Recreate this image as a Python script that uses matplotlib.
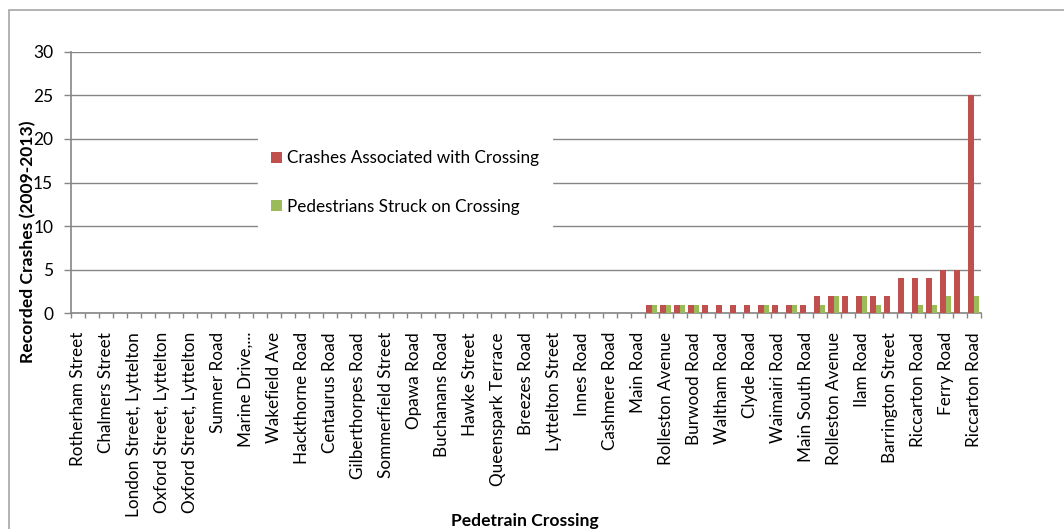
import matplotlib
matplotlib.use("Agg")
import matplotlib.pyplot as plt
from matplotlib.patches import Rectangle

plt.rcParams['font.family'] = ['Lato', 'DejaVu Sans']

# shown crossing names (Excel shows every second category label)
shown_labels = ["Rotherham Street", "Chalmers Street", "London Street, Lyttelton",
                "Oxford Street, Lyttelton", "Oxford Street, Lyttelton", "Sumner Road",
                "Marine Drive,...", "Wakefield Ave", "Hackthorne Road", "Centaurus Road",
                "Gilberthorpes Road", "Sommerfield Street", "Opawa Road", "Buchanans Road",
                "Hawke Street", "Queenspark Terrace", "Breezes Road", "Lyttelton Street",
                "Innes Road", "Cashmere Road", "Main Road", "Rolleston Avenue",
                "Burwood Road", "Waltham Road", "Clyde Road", "Waimairi Road",
                "Main South Road", "Rolleston Avenue", "Ilam Road", "Barrington Street",
                "Riccarton Road", "Ferry Road", "Riccarton Road"]

crashes = [0] * 41 + [1] * 12 + [2] * 6 + [4] * 3 + [5] * 2 + [25]
pedestrians = [0] * 41 + [1, 1, 1, 1, 0, 0, 0, 0, 1, 0, 1, 0,
                          1, 2, 0, 2, 1, 0, 0, 1, 1, 2, 0, 2]

red = '#C0504D'
green = '#9BBB59'
grey = '#868686'

n = len(crashes)
x = list(range(n))

fig = plt.figure(figsize=(10.64, 5.29), dpi=100)
ax = fig.add_axes([71 / 1064, 1 - 313.3 / 529, (980.7 - 71) / 1064, (313.3 - 51.7) / 529])

w = 0.4
ax.bar([i - w / 2 for i in x], crashes, width=w, color=red,
       label='Crashes Associated with Crossing', zorder=3)
ax.bar([i + w / 2 for i in x], pedestrians, width=w, color=green,
       label='Pedestrians Struck on Crossing', zorder=3)

ax.set_xlim(-0.5, n - 0.5)
ax.set_ylim(0, 30)
ax.set_yticks(range(0, 31, 5))
ax.yaxis.grid(True, color=grey, linewidth=1.0, zorder=0)
ax.tick_params(axis='y', length=4.8, width=1.0, color=grey, labelsize=12.5, pad=8)

# tick marks between categories, labels on every second category
ax.set_xticks([i - 0.5 for i in range(n + 1)])
ax.set_xticklabels([])
ax.tick_params(axis='x', which='major', length=3.6, width=1.0, color=grey)
ax.set_xticks(list(range(0, n, 2)), minor=True)
ax.set_xticklabels(shown_labels, minor=True, rotation=90, fontsize=12.3)
ax.tick_params(axis='x', which='minor', length=0, pad=13.5)

for s in ['top', 'right']:
    ax.spines[s].set_visible(False)
for s in ['left', 'bottom']:
    ax.spines[s].set_color(grey)
    ax.spines[s].set_linewidth(1.2)

leg = fig.legend(loc='center', bbox_to_anchor=(405 / 1064, 1 - 182.5 / 529),
                 frameon=True, fontsize=12.3, labelspacing=1.9,
                 handlelength=0.6, handleheight=0.6, handletextpad=0.3,
                 borderpad=0.8)
leg.get_frame().set_edgecolor('white')
leg.get_frame().set_facecolor('white')
leg.get_frame().set_alpha(1)
leg.set_zorder(5)

fig.text(28 / 1064, 1 - 242 / 529, 'Recorded Crashes (2009-2013)', rotation=90,
         fontsize=12.6, fontweight='bold', ha='center', va='center')
fig.text(525 / 1064, 1 - 521 / 529, 'Pedetrain Crossing',
         fontsize=12.6, fontweight='bold', ha='center', va='center')

fig.patches.append(Rectangle((9.3 / 1064, -0.1), 1.2, 1 - 10 / 529 + 0.1,
                             transform=fig.transFigure, fill=False,
                             edgecolor='#a6a6a6', linewidth=1.2))

plt.savefig('out.png')
